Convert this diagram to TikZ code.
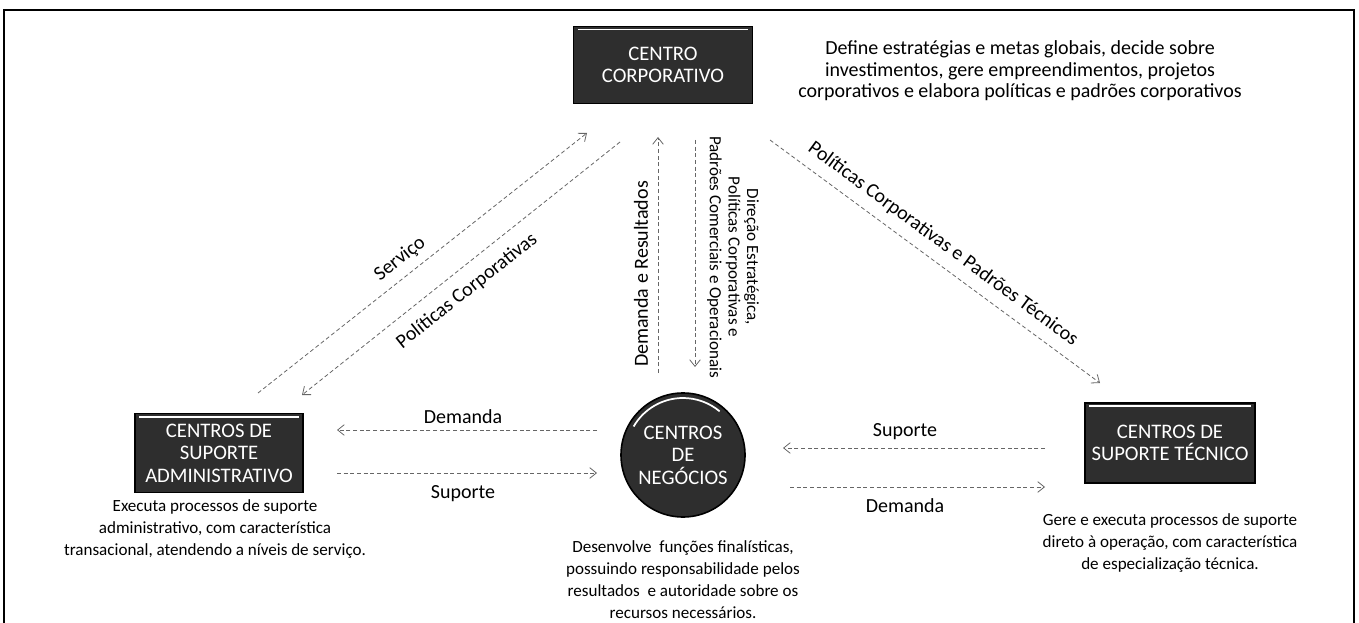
\documentclass[tikz,border=0pt]{standalone}
\usepackage{fontspec}
\setmainfont{Carlito}
\usetikzlibrary{arrows.meta,calc}
\begin{document}
\begin{tikzpicture}[x=0.75pt,y=-0.75pt,
 darkbox/.style={draw=black,fill=black!82,text=white,font=\fontsize{15.5}{16.8}\selectfont,align=center,inner sep=0pt,line width=1.2pt},
 hilite/.style={draw=white!72,line width=1.3pt},
 desc/.style={align=center,font=\fontsize{12.8}{16.5}\selectfont},
 topdesc/.style={align=center,font=\fontsize{15}{16.2}\selectfont},
 lbl/.style={font=\fontsize{15}{17}\selectfont},
 flow/.style={draw=black!60,densely dashed,line width=0.6pt,-{Straight Barb[length=5pt,width=8pt]}},
]
\useasboundingbox (0,0) rectangle (1359,623);
% frame
\draw[line width=2.2pt] (4,623) -- (4,10) -- (1354,10) -- (1354,623);

% main units
\node[darkbox,minimum width=134pt,minimum height=58pt] (corp) at (663,65) {CENTRO\\CORPORATIVO};
\node[darkbox,minimum width=126pt,minimum height=59pt] (adm) at (219,453) {CENTROS DE\\SUPORTE\\ADMINISTRATIVO};
\node[darkbox,minimum width=127.5pt,minimum height=60pt] (tec) at (1170,443) {CENTROS DE\\SUPORTE T\'ECNICO};
\node[darkbox,circle,minimum size=93pt] (neg) at (683,455) {CENTROS\\DE\\NEG\'OCIOS};

% bevel highlights
\foreach \b in {corp,adm,tec}{
  \draw[hilite] ($(\b.north west)+(5,4)$) -- ($(\b.north east)+(-5,4)$);
}
\draw[hilite] ($(neg.center)+(-150:57)$) arc[start angle=-150,end angle=-50,radius=57];

% descriptions
\node[desc] (admdesc) at (215,529) {Executa processos de suporte\\administrativo, com característica\\transacional, atendendo a níveis de serviço.};
\node[topdesc] (corpdesc) at (1020,71) {Define estratégias e metas globais, decide sobre\\investimentos, gere empreendimentos, projetos\\corporativos e elabora políticas e padrões corporativos};
\node[desc] (negdesc) at (683,580) {Desenvolve\ \ funções finalísticas,\\possuindo responsabilidade pelos\\resultados\ \ e autoridade sobre os\\recursos necessários.};
\node[desc] (tecdesc) at (1170,543) {Gere e executa processos de suporte\\direto à operação, com característica\\de especialização técnica.};

% connector end points
\coordinate (s1) at (258,393); \coordinate (s2) at (587,133);
\coordinate (p1) at (620,142); \coordinate (p2) at (302,395);
\coordinate (d1) at (658,373); \coordinate (d2) at (658,137);
\coordinate (e1) at (695,140); \coordinate (e2) at (695,367);
\coordinate (t1) at (770,140); \coordinate (t2) at (1100,383);
\coordinate (a1) at (597,430); \coordinate (a2) at (337,430);
\coordinate (b1) at (337,473); \coordinate (b2) at (597,473);
\coordinate (c1) at (1045,448); \coordinate (c2) at (783,448);
\coordinate (f1) at (790,487); \coordinate (f2) at (1045,487);

\draw[flow] (s1) -- (s2);
\draw[flow] (p1) -- (p2);
\draw[flow] (d1) -- (d2);
\draw[flow] (e1) -- (e2);
\draw[flow] (t1) -- (t2);
\draw[flow] (a1) -- (a2);
\draw[flow] (b1) -- (b2);
\draw[flow] (c1) -- (c2);
\draw[flow] (f1) -- (f2);

% labels
\node[lbl,rotate=38.3] (lserv) at (400,259) {Serviço};
\node[lbl,rotate=38.5] (lpol) at (467,291) {Políticas Corporativas};
\node[lbl,rotate=90] (ldem) at (641,274) {Demanda e Resultados};
\node[lbl,rotate=-90,align=center,font=\fontsize{12.8}{14}\selectfont] (ldir) at (733,257) {Direção Estratégica,\\Políticas Corporativas e\\Padrões Comerciais e Operacionais};
\node[lbl,rotate=-36.4] (ltec) at (943,244) {Políticas Corporativas e Padrões Técnicos};
\node[lbl] (ldemL) at (463,417) {Demanda};
\node[lbl] (lsupL) at (463,494) {Suporte};
\node[lbl] (lsupR) at (905,432) {Suporte};
\node[lbl] (ldemR) at (905,506) {Demanda};
\end{tikzpicture}
\end{document}
